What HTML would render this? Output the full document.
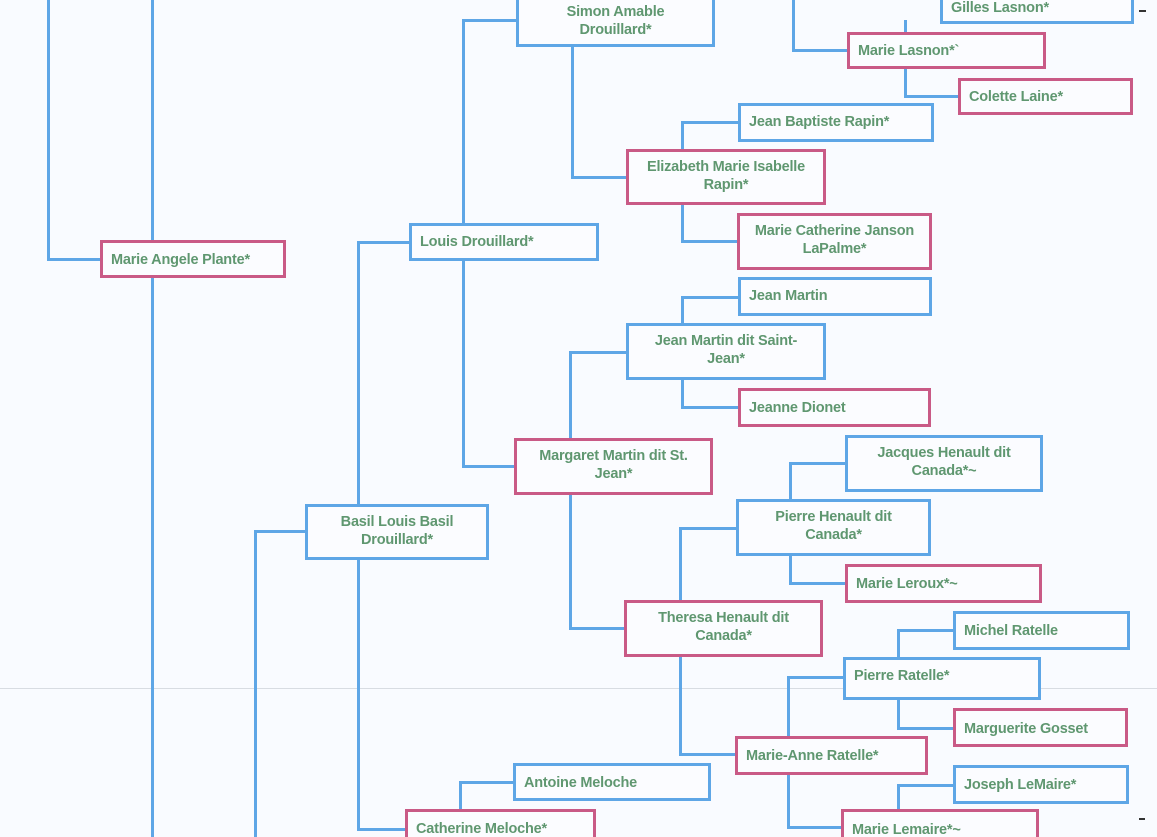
<!DOCTYPE html>
<html><head><meta charset="utf-8"><style>
html,body{margin:0;padding:0;overflow:hidden}
body{width:1157px;height:837px;position:relative;overflow:hidden;background:#f9fbff;font-family:"Liberation Sans",Arial,sans-serif}
.l{position:absolute;background:#5ea6e6}
.b{position:absolute;box-sizing:border-box;border:3px solid #5ea6e6;background:#fbfcff;color:#5f9770;font-weight:bold;font-size:14.5px;line-height:18px;padding:3px 8px 0 8px;letter-spacing:-0.2px}
.p{border-color:#c95a86}
.c{text-align:center;padding-top:6px}
</style></head><body>
<div style="position:absolute;left:0;top:688px;width:1157px;height:1px;background:#d8dce2"></div>
<div class="l" style="left:47px;top:0;width:3px;height:261px"></div>
<div class="l" style="left:47px;top:258px;width:55px;height:3px"></div>
<div class="l" style="left:151px;top:0;width:3px;height:837px"></div>
<div class="l" style="left:462px;top:19px;width:3px;height:449px"></div>
<div class="l" style="left:462px;top:19px;width:56px;height:3px"></div>
<div class="l" style="left:462px;top:465px;width:54px;height:3px"></div>
<div class="l" style="left:357px;top:241px;width:3px;height:590px"></div>
<div class="l" style="left:357px;top:241px;width:54px;height:3px"></div>
<div class="l" style="left:357px;top:828px;width:50px;height:3px"></div>
<div class="l" style="left:254px;top:530px;width:3px;height:307px"></div>
<div class="l" style="left:254px;top:530px;width:53px;height:3px"></div>
<div class="l" style="left:571px;top:44px;width:3px;height:135px"></div>
<div class="l" style="left:571px;top:176px;width:57px;height:3px"></div>
<div class="l" style="left:681px;top:121px;width:3px;height:121px"></div>
<div class="l" style="left:681px;top:121px;width:59px;height:3px"></div>
<div class="l" style="left:681px;top:240px;width:58px;height:3px"></div>
<div class="l" style="left:792px;top:0;width:3px;height:51px"></div>
<div class="l" style="left:792px;top:49px;width:58px;height:3px"></div>
<div class="l" style="left:904px;top:20px;width:3px;height:77px"></div>
<div class="l" style="left:904px;top:95px;width:56px;height:3px"></div>
<div class="l" style="left:569px;top:351px;width:3px;height:279px"></div>
<div class="l" style="left:569px;top:351px;width:59px;height:3px"></div>
<div class="l" style="left:569px;top:627px;width:57px;height:3px"></div>
<div class="l" style="left:681px;top:296px;width:3px;height:113px"></div>
<div class="l" style="left:681px;top:296px;width:59px;height:3px"></div>
<div class="l" style="left:681px;top:406px;width:59px;height:3px"></div>
<div class="l" style="left:789px;top:462px;width:3px;height:122px"></div>
<div class="l" style="left:789px;top:462px;width:58px;height:3px"></div>
<div class="l" style="left:789px;top:582px;width:58px;height:3px"></div>
<div class="l" style="left:679px;top:527px;width:3px;height:229px"></div>
<div class="l" style="left:679px;top:527px;width:59px;height:3px"></div>
<div class="l" style="left:679px;top:753px;width:58px;height:3px"></div>
<div class="l" style="left:897px;top:629px;width:3px;height:100px"></div>
<div class="l" style="left:897px;top:629px;width:58px;height:3px"></div>
<div class="l" style="left:897px;top:727px;width:58px;height:3px"></div>
<div class="l" style="left:787px;top:676px;width:3px;height:153px"></div>
<div class="l" style="left:787px;top:676px;width:58px;height:3px"></div>
<div class="l" style="left:787px;top:826px;width:56px;height:3px"></div>
<div class="l" style="left:459px;top:781px;width:3px;height:31px"></div>
<div class="l" style="left:459px;top:781px;width:56px;height:3px"></div>
<div class="l" style="left:897px;top:784px;width:3px;height:28px"></div>
<div class="l" style="left:897px;top:784px;width:58px;height:3px"></div>
<div class="b c" style="left:516px;top:-6px;width:199px;height:53px">Simon Amable<br>Drouillard*</div>
<div class="b" style="left:940px;top:-10px;width:194px;height:34px;padding-top:6px">Gilles Lasnon*</div>
<div class="b p" style="left:847px;top:32px;width:199px;height:37px;padding-top:7px">Marie Lasnon*`</div>
<div class="b p" style="left:958px;top:78px;width:175px;height:37px;padding-top:7px">Colette Laine*</div>
<div class="b" style="left:738px;top:103px;width:196px;height:39px;padding-top:7px">Jean Baptiste Rapin*</div>
<div class="b p c" style="left:626px;top:149px;width:200px;height:56px">Elizabeth Marie Isabelle<br>Rapin*</div>
<div class="b p c" style="left:737px;top:213px;width:195px;height:57px">Marie Catherine Janson<br>LaPalme*</div>
<div class="b p" style="left:100px;top:240px;width:186px;height:38px;padding-top:8px">Marie Angele Plante*</div>
<div class="b" style="left:409px;top:223px;width:190px;height:38px;padding-top:7px">Louis Drouillard*</div>
<div class="b" style="left:738px;top:277px;width:194px;height:39px;padding-top:7px">Jean Martin</div>
<div class="b c" style="left:626px;top:323px;width:200px;height:57px">Jean Martin dit Saint-<br>Jean*</div>
<div class="b p" style="left:738px;top:388px;width:193px;height:39px;padding-top:8px">Jeanne Dionet</div>
<div class="b p c" style="left:514px;top:438px;width:199px;height:57px">Margaret Martin dit St.<br>Jean*</div>
<div class="b c" style="left:845px;top:435px;width:198px;height:57px">Jacques Henault dit<br>Canada*~</div>
<div class="b c" style="left:736px;top:499px;width:195px;height:57px">Pierre Henault dit<br>Canada*</div>
<div class="b p" style="left:845px;top:564px;width:197px;height:39px;padding-top:8px">Marie Leroux*~</div>
<div class="b c" style="left:305px;top:504px;width:184px;height:56px">Basil Louis Basil<br>Drouillard*</div>
<div class="b p c" style="left:624px;top:600px;width:199px;height:57px">Theresa Henault dit<br>Canada*</div>
<div class="b" style="left:953px;top:611px;width:177px;height:39px;padding-top:8px">Michel Ratelle</div>
<div class="b" style="left:843px;top:657px;width:198px;height:43px;padding-top:7px">Pierre Ratelle*</div>
<div class="b p" style="left:953px;top:708px;width:175px;height:39px;padding-top:9px">Marguerite Gosset</div>
<div class="b p" style="left:735px;top:736px;width:193px;height:39px;padding-top:8px">Marie-Anne Ratelle*</div>
<div class="b" style="left:513px;top:763px;width:198px;height:38px;padding-top:8px">Antoine Meloche</div>
<div class="b" style="left:953px;top:765px;width:176px;height:39px;padding-top:8px">Joseph LeMaire*</div>
<div class="b p" style="left:405px;top:809px;width:191px;height:40px;padding-top:8px">Catherine Meloche*</div>
<div class="b p" style="left:841px;top:809px;width:198px;height:40px;padding-top:9px">Marie Lemaire*~</div>
<div style="position:absolute;left:1139px;top:10px;width:7px;height:2px;background:#333"></div>
<div style="position:absolute;left:1139px;top:818px;width:6px;height:2px;background:#333"></div>
</body></html>
